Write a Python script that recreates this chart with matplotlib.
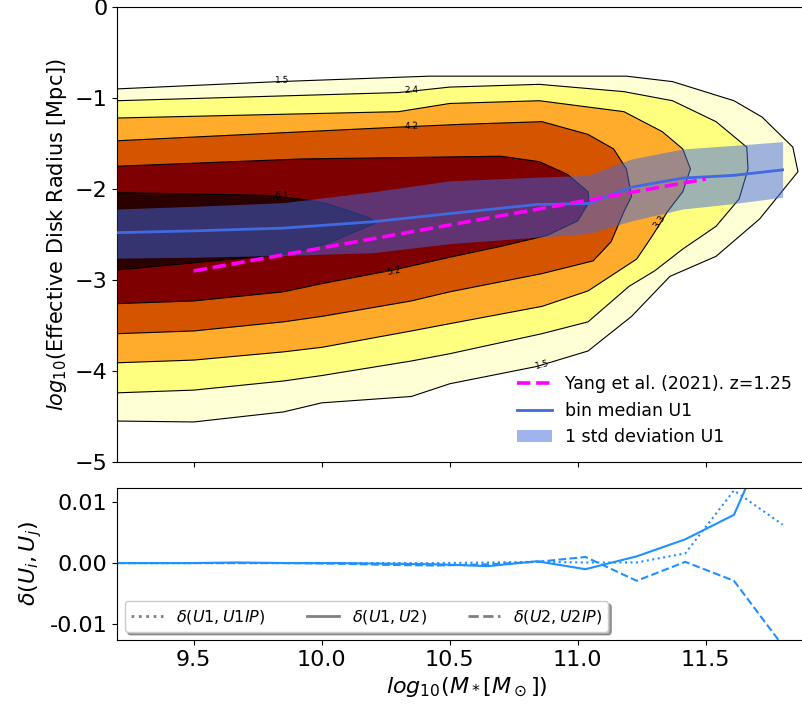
import numpy as np
import matplotlib.pyplot as plt
from matplotlib.colors import Normalize

# density contour levels (log counts)
levels = np.linspace(1.5, 7.0, 7)

# contour outlines: upper edge and lower edge, left -> right
c15_up_x = [9.20, 9.83, 10.42, 11.19, 11.37, 11.61, 11.72, 11.84, 11.86]
c15_up_y = [-0.90, -0.82, -0.76, -0.76, -0.82, -1.03, -1.21, -1.54, -1.81]
c15_lo_x = [9.20, 9.50, 9.85, 10.00, 10.35, 10.50, 10.84, 11.04, 11.21, 11.36, 11.54, 11.71, 11.86]
c15_lo_y = [-4.55, -4.56, -4.45, -4.35, -4.28, -4.14, -3.95, -3.78, -3.40, -2.96, -2.74, -2.33, -1.81]

c24_up_x = [9.20, 10.30, 10.50, 10.85, 11.18, 11.37, 11.54, 11.66, 11.665]
c24_up_y = [-1.03, -0.94, -0.88, -0.85, -0.93, -1.03, -1.26, -1.54, -1.78]
c24_lo_x = [9.20, 9.50, 9.85, 10.00, 10.35, 10.50, 10.86, 11.04, 11.20, 11.30, 11.41, 11.54, 11.63, 11.665]
c24_lo_y = [-4.24, -4.21, -4.11, -4.05, -3.89, -3.81, -3.59, -3.46, -3.07, -2.90, -2.66, -2.41, -2.11, -1.78]

c33_up_x = [9.20, 10.30, 10.50, 10.85, 11.18, 11.33, 11.41, 11.44]
c33_up_y = [-1.22, -1.15, -1.06, -1.03, -1.15, -1.37, -1.56, -1.78]
c33_lo_x = [9.20, 9.50, 9.85, 10.00, 10.35, 10.50, 10.86, 11.04, 11.23, 11.29, 11.35, 11.41, 11.44]
c33_lo_y = [-3.91, -3.88, -3.79, -3.74, -3.56, -3.48, -3.29, -3.12, -2.77, -2.52, -2.25, -2.03, -1.78]

c42_up_x = [9.20, 10.30, 10.54, 10.86, 11.04, 11.14, 11.19, 11.21]
c42_up_y = [-1.47, -1.32, -1.29, -1.26, -1.40, -1.56, -1.78, -2.08]
c42_lo_x = [9.20, 9.50, 9.85, 10.00, 10.35, 10.50, 10.86, 11.06, 11.13, 11.18, 11.21]
c42_lo_y = [-3.59, -3.56, -3.46, -3.40, -3.23, -3.13, -2.93, -2.79, -2.58, -2.25, -2.08]

c52_up_x = [9.20, 9.92, 10.70, 10.85, 10.96, 11.04, 11.045]
c52_up_y = [-1.75, -1.67, -1.64, -1.70, -1.84, -2.03, -2.14]
c52_lo_x = [9.20, 9.50, 9.85, 10.00, 10.28, 10.50, 10.70, 10.88, 11.00, 11.045]
c52_lo_y = [-3.26, -3.23, -3.13, -3.04, -2.89, -2.75, -2.63, -2.51, -2.35, -2.14]

c61_up_x = [9.20, 9.79, 9.94, 10.02, 10.18, 10.215]
c61_up_y = [-2.04, -2.07, -2.12, -2.16, -2.31, -2.37]
c61_lo_x = [9.20, 9.88, 10.02, 10.215]
c61_lo_y = [-2.89, -2.71, -2.60, -2.37]

# contour label positions
clabel_text = ['1.5', '2.4', '4.2', '6.1', '5.2', '3.3', '1.5']
clabel_x = [9.845, 10.35, 10.35, 9.845, 10.28, 11.32, 10.86]
clabel_y = [-0.81, -0.92, -1.31, -2.08, -2.90, -2.36, -3.93]
clabel_rot = [1, 2, 2, -3, 10, 55, 15]

# bin median and 1 std band for U1
med_x = [9.20, 9.50, 9.85, 10.20, 10.50, 10.84, 11.04, 11.21, 11.41, 11.61, 11.80]
med_y = [-2.48, -2.46, -2.43, -2.36, -2.27, -2.17, -2.16, -1.98, -1.88, -1.85, -1.79]
std_hi = [-2.22, -2.19, -2.15, -2.03, -1.91, -1.87, -1.85, -1.67, -1.56, -1.52, -1.48]
std_lo = [-2.76, -2.75, -2.73, -2.70, -2.60, -2.53, -2.49, -2.35, -2.22, -2.16, -2.09]

# Yang et al. (2021) relation at z=1.25
yang_x = [9.5, 11.5]
yang_y = [-2.90, -1.89]

# relative differences between runs
bin_x = [9.20, 9.48, 9.67, 9.87, 10.06, 10.26, 10.45, 10.65, 10.84, 11.03, 11.23, 11.42, 11.61, 11.80]
d_u1_u1ip = [0, 0, 0, 0, 0, 0, 0, 0.0001, 0.0002, 0.0001, 0.0001, 0.0016, 0.0119, 0.0063]
d_u1_u2 = [0, 0, 0.0001, 0, 0, -0.0001, -0.0002, -0.0005, 0.0003, -0.0010, 0.0011, 0.0039, 0.0079, 0.026]
d_u2_u2ip = [0, 0, 0, 0, -0.0001, -0.0003, -0.0004, -0.0002, 0.0002, 0.0010, -0.0029, 0.0002, -0.0029, -0.0135]


def main():
    W, H = 803, 708
    fig = plt.figure(figsize=(W / 100, H / 100), dpi=100)
    # axes run slightly past the right edge of the figure, as in the original
    ax1 = fig.add_axes([117 / W, 1 - 462 / H, 700 / W, 455 / H])
    ax2 = fig.add_axes([117 / W, 1 - 640 / H, 700 / W, 152 / H])
    xmax = 9.2 + 700 / 256

    cmap = plt.get_cmap('afmhot_r')
    norm = Normalize(levels[0], levels[-1])
    mids = 0.5 * (levels[:-1] + levels[1:])

    ups_x = [c15_up_x, c24_up_x, c33_up_x, c42_up_x, c52_up_x, c61_up_x]
    ups_y = [c15_up_y, c24_up_y, c33_up_y, c42_up_y, c52_up_y, c61_up_y]
    los_x = [c15_lo_x, c24_lo_x, c33_lo_x, c42_lo_x, c52_lo_x, c61_lo_x]
    los_y = [c15_lo_y, c24_lo_y, c33_lo_y, c42_lo_y, c52_lo_y, c61_lo_y]
    for k in range(6):
        xs = list(ups_x[k]) + list(los_x[k])[::-1]
        ys = list(ups_y[k]) + list(los_y[k])[::-1]
        ax1.fill(xs, ys, facecolor=cmap(norm(mids[k])), edgecolor='black',
                 linewidth=0.8, zorder=1 + k * 0.1)

    for t, x, y, r in zip(clabel_text, clabel_x, clabel_y, clabel_rot):
        ax1.text(x, y, t, fontsize=6.5, rotation=r, ha='center', va='center', zorder=3)

    ax1.fill_between(med_x, std_lo, std_hi, color='royalblue', alpha=0.5,
                     linewidth=0, zorder=4, label='1 std deviation U1')
    ax1.plot(med_x, med_y, color='royalblue', linewidth=2, zorder=5, label='bin median U1')
    ax1.plot(yang_x, yang_y, color='magenta', linestyle='--', linewidth=2.6, zorder=6,
             label='Yang et al. (2021). z=1.25')

    ax1.set_xlim(9.2, xmax)
    ax1.set_ylim(-5, 0)
    ax1.set_yticks([-5, -4, -3, -2, -1, 0])
    ax1.set_xticks([9.5, 10.0, 10.5, 11.0, 11.5])
    ax1.tick_params(labelbottom=False, labelsize=16)
    ax1.set_ylabel(r'$log_{10}$(Effective Disk Radius [Mpc])', fontsize=15)
    h, l = ax1.get_legend_handles_labels()
    order = [2, 1, 0]
    ax1.legend([h[i] for i in order], [l[i] for i in order], loc='lower right',
               frameon=False, fontsize=12.5, bbox_to_anchor=((808 - 117) / 700, 0),
               bbox_transform=ax1.transAxes)

    # bottom panel
    ax2.plot(bin_x, d_u1_u1ip, color='dodgerblue', linestyle=':', linewidth=1.5)
    ax2.plot(bin_x, d_u1_u2, color='dodgerblue', linestyle='-', linewidth=1.5)
    ax2.plot(bin_x, d_u2_u2ip, color='dodgerblue', linestyle='--', linewidth=1.5)
    ax2.plot([], [], color='gray', linestyle=':', linewidth=2, label=r'$\delta(U1,U1IP)$')
    ax2.plot([], [], color='gray', linestyle='-', linewidth=2, label=r'$\delta(U1,U2)$')
    ax2.plot([], [], color='gray', linestyle='--', linewidth=2, label=r'$\delta(U2,U2IP)$')
    ax2.set_xlim(9.2, xmax)
    ax2.set_ylim(-0.0126, 0.0123)
    ax2.set_yticks([-0.01, 0.0, 0.01])
    ax2.set_yticklabels(['-0.01', '0.00', '0.01'])
    ax2.set_xticks([9.5, 10.0, 10.5, 11.0, 11.5])
    ax2.set_xticklabels(['9.5', '10.0', '10.5', '11.0', '11.5'])
    ax2.tick_params(labelsize=16)
    ax2.set_xlabel(r'$log_{10}(M_*[M_\odot])$', fontsize=16)
    ax2.set_ylabel(r'$\delta(U_i,U_j)$', fontsize=16)
    ax2.legend(loc='lower left', ncol=3, fontsize=11.5, fancybox=True, shadow=True,
               columnspacing=2.6)

    fig.savefig('out.png', dpi=100)
    plt.close(fig)


if __name__ == '__main__':
    main()
